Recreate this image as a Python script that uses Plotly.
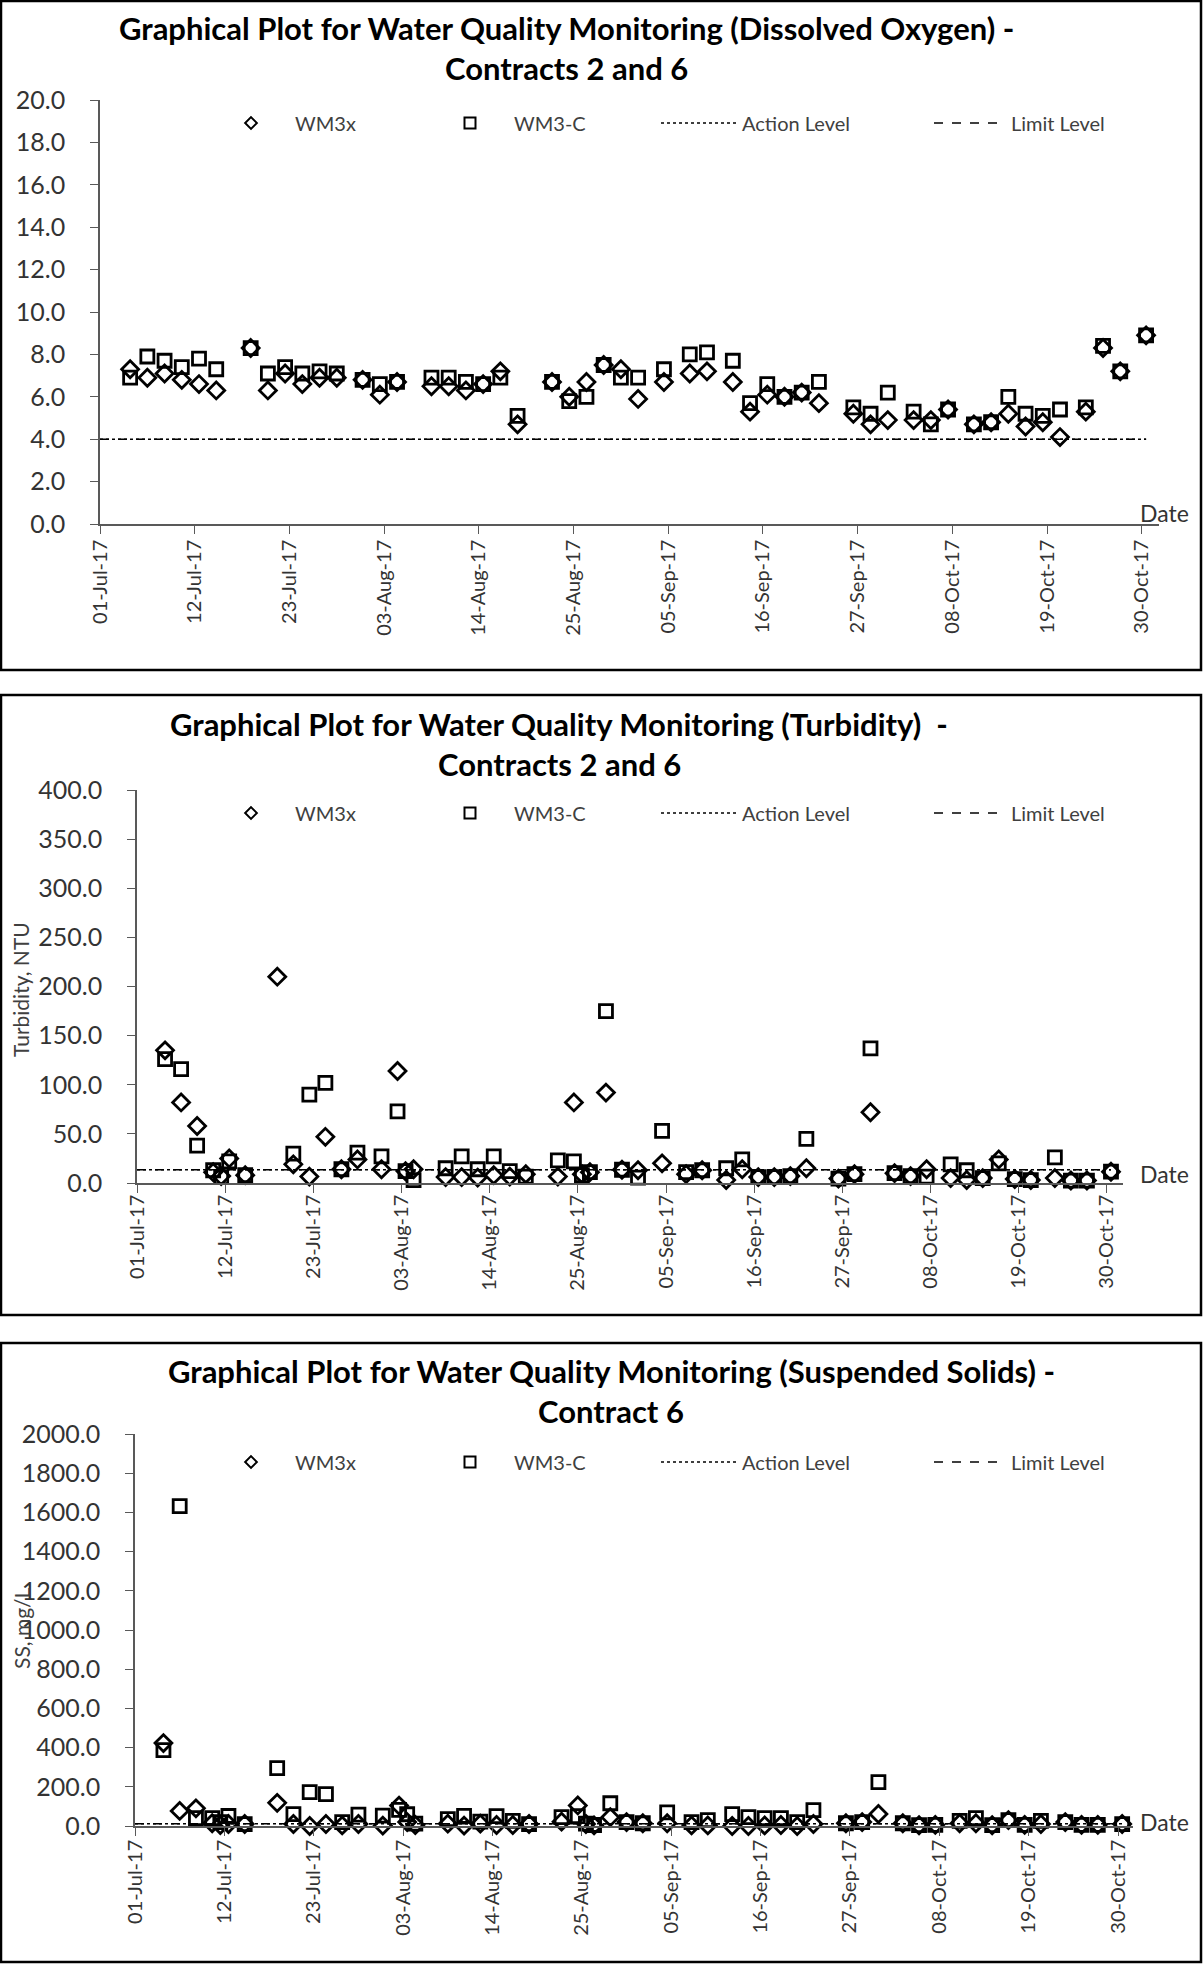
import plotly.graph_objects as go
import pandas as pd

W, H = 1203, 1964

# ---------------- data ----------------
tick_dates = ["2017-07-01", "2017-07-12", "2017-07-23", "2017-08-03", "2017-08-14", "2017-08-25",
              "2017-09-05", "2017-09-16", "2017-09-27", "2017-10-08", "2017-10-19", "2017-10-30"]

level_dates = ["2017-07-01 00:00", "2017-10-30 12:00"]

do_dates = ["2017-07-04", "2017-07-06", "2017-07-08", "2017-07-10", "2017-07-12", "2017-07-14",
            "2017-07-18", "2017-07-20", "2017-07-22", "2017-07-24", "2017-07-26", "2017-07-28",
            "2017-07-31", "2017-08-02", "2017-08-04",
            "2017-08-08", "2017-08-10", "2017-08-12", "2017-08-14", "2017-08-16", "2017-08-18",
            "2017-08-22", "2017-08-24", "2017-08-26", "2017-08-28", "2017-08-30", "2017-09-01",
            "2017-09-04", "2017-09-07", "2017-09-09", "2017-09-12", "2017-09-14", "2017-09-16",
            "2017-09-18", "2017-09-20", "2017-09-22",
            "2017-09-26", "2017-09-28", "2017-09-30", "2017-10-03", "2017-10-05", "2017-10-07",
            "2017-10-10", "2017-10-12", "2017-10-14", "2017-10-16", "2017-10-18", "2017-10-20",
            "2017-10-23", "2017-10-25", "2017-10-27", "2017-10-30"]
do_wm3x = [7.3, 6.9, 7.1, 6.8, 6.6, 6.3,
           8.3, 6.3, 7.1, 6.6, 6.9, 6.9,
           6.8, 6.1, 6.7,
           6.5, 6.5, 6.3, 6.6, 7.2, 4.7,
           6.7, 6.0, 6.7, 7.5, 7.3, 5.9,
           6.7, 7.1, 7.2, 6.7, 5.3, 6.1, 6.0, 6.2, 5.7,
           5.2, 4.7, 4.9, 4.9, 4.9, 5.4,
           4.7, 4.8, 5.2, 4.6, 4.8, 4.1,
           5.3, 8.3, 7.2, 8.9]
do_wm3c = [6.9, 7.9, 7.7, 7.4, 7.8, 7.3,
           8.3, 7.1, 7.4, 7.1, 7.2, 7.1,
           6.8, 6.6, 6.7,
           6.9, 6.9, 6.7, 6.6, 6.9, 5.1,
           6.7, 5.8, 6.0, 7.5, 6.9, 6.9,
           7.3, 8.0, 8.1, 7.7, 5.7, 6.6, 6.0, 6.2, 6.7,
           5.5, 5.2, 6.2, 5.3, 4.7, 5.4,
           4.7, 4.8, 6.0, 5.2, 5.1, 5.4,
           5.5, 8.4, 7.2, 8.9]
do_action = [4.0, 4.0]
do_limit = [4.0, 4.0]

wq_dates = ["2017-07-04", "2017-07-06", "2017-07-08", "2017-07-10", "2017-07-11", "2017-07-12", "2017-07-14",
            "2017-07-18", "2017-07-20", "2017-07-22", "2017-07-24", "2017-07-26", "2017-07-28",
            "2017-07-31", "2017-08-02", "2017-08-03", "2017-08-04",
            "2017-08-08", "2017-08-10", "2017-08-12", "2017-08-14", "2017-08-16", "2017-08-18",
            "2017-08-22", "2017-08-24", "2017-08-25", "2017-08-26", "2017-08-28", "2017-08-30", "2017-09-01",
            "2017-09-04", "2017-09-07", "2017-09-09", "2017-09-12", "2017-09-14", "2017-09-16",
            "2017-09-18", "2017-09-20", "2017-09-22",
            "2017-09-26", "2017-09-28", "2017-09-30", "2017-10-03", "2017-10-05", "2017-10-07",
            "2017-10-10", "2017-10-12", "2017-10-14", "2017-10-16", "2017-10-18", "2017-10-20",
            "2017-10-23", "2017-10-25", "2017-10-27", "2017-10-30"]
tur_wm3x = [135, 82, 58, 11, 7, 25, 8,
            210, 19, 6.5, 47, 14, 24,
            14, 114, 12, 14,
            6, 6, 5.5, 8, 6.5, 9,
            6.5, 82, 9, 11, 92, 13.5, 13,
            20, 9, 13, 3, 14, 6,
            6, 7, 15,
            4.5, 9, 72, 10, 7, 14,
            5, 3, 5, 24, 4, 3,
            5, 2.5, 2.5, 11.5]
tur_wm3c = [126, 116, 38, 13, 6, 22, 8,
            None, 30, 90, 102, 14, 31,
            27, 73, 12, 3,
            15, 27, 14, 27, 12, 6.5,
            23, 22, 8, 11, 175, 13.5, 5.5,
            53, 11, 13, 15, 24, 6,
            6, 7, 45,
            4.5, 9, 137, 10, 7, 6.5,
            19, 13, 5, 20, 4, 3,
            26, 2.5, 2.5, 11.5]
tur_action = [13.4, 13.4]
tur_limit = [13.4, 13.4]

ss_wm3x = [423, 77, 90, 14, 5, 10, 10,
           118, 10, 0, 10, 3, 10,
           2, 104, 20, 5,
           12, 2, 12, 5, 5, 10,
           22, 105, 10, 3, 45, 20, 14,
           14, 3, 3, 0, 0, 3,
           5, 0, 10,
           14, 20, 61, 14, 4, 6,
           14, 14, 4, 30, 6, 10,
           20, 6, 6, 10]
ss_wm3c = [387, 1632, 40, 40, 20, 51, 10,
           295, 61, 173, 163, 20, 58,
           53, 82, 60, 12,
           35, 52, 22, 50, 26, 10,
           45, 50, 12, 5, 116, 20, 14,
           70, 20, 30, 61, 45, 40,
           40, 20, 81,
           14, 20, 224, 14, 4, 6,
           26, 40, 4, 30, 6, 26,
           20, 6, 6, 10]
ss_action = [12, 12]
ss_limit = [12, 12]

# ---------------- helpers ----------------
FONT = "Lato"
TXT = "#333333"
LEG = "#404040"
AX = "#595959"


def px(x):
    return x / W


def py(y):
    return 1 - y / H


def slot(dates):
    # Excel date axis draws each day's point in the middle of its day slot
    return pd.to_datetime(pd.Series(dates)) + pd.Timedelta(hours=12)


fig = go.Figure()

panels = [
    dict(dates=do_dates, a=do_wm3x, b=do_wm3c, act=do_action, lim=do_limit,
         yrange=[0, 20], dtick=2, xdom=[100, 1159], ydom=[100, 524], xend="2017-11-01",
         title1="Graphical Plot for Water Quality Monitoring (Dissolved Oxygen) -",
         title2="Contracts 2 and 6", tx=566, ty1=28, ty2=68, leg_y=123, date_y=513,
         ytitle=None, xstand=-2),
    dict(dates=wq_dates, a=tur_wm3x, b=tur_wm3c, act=tur_action, lim=tur_limit,
         yrange=[0, 400], dtick=50, xdom=[137, 1123], ydom=[790, 1183], xend="2017-11-01",
         title1="Graphical Plot for Water Quality Monitoring (Turbidity)  -",
         title2="Contracts 2 and 6", tx=559, ty1=724, ty2=764, leg_y=813, date_y=1174,
         ytitle=("Turbidity, NTU", 21, 990), xstand=-6),
    dict(dates=wq_dates, a=ss_wm3x, b=ss_wm3c, act=ss_action, lim=ss_limit,
         yrange=[0, 2000], dtick=200, xdom=[135, 1133], ydom=[1434, 1826], xend="2017-10-31 20:00",
         title1="Graphical Plot for Water Quality Monitoring (Suspended Solids) -",
         title2="Contract 6", tx=611, ty1=1371, ty2=1411, leg_y=1462, date_y=1822,
         ytitle=("SS, mg/L", 21, 1628), xstand=-4),
]

boxes = [(1, 1, 1201, 670), (1, 695, 1201, 1315), (1, 1343, 1201, 1962)]

annotations = []
shapes = []
layout_extra = {}

for i, p in enumerate(panels):
    n = i + 1
    xa = "x" if n == 1 else f"x{n}"
    ya = "y" if n == 1 else f"y{n}"
    lg = [f"legend{4 * i + k}" if (4 * i + k) > 1 else "legend" for k in (1, 2, 3, 4)]

    # data traces
    fig.add_trace(go.Scatter(
        x=slot(p["dates"]), y=p["a"], mode="markers", name="WM3x", showlegend=False,
        marker=dict(symbol="diamond-open", size=13, color="black", line=dict(width=2.8, color="black")),
        xaxis=xa, yaxis=ya, cliponaxis=False))
    fig.add_trace(go.Scatter(
        x=slot(p["dates"]), y=p["b"], mode="markers", name="WM3-C", showlegend=False,
        marker=dict(symbol="square-open", size=13, color="black", line=dict(width=2.8, color="black")),
        xaxis=xa, yaxis=ya, cliponaxis=False))
    # legend keys (smaller symbols, as in the original legend)
    fig.add_trace(go.Scatter(
        x=[None], y=[None], mode="markers", name="WM3x",
        marker=dict(symbol="diamond-open", size=9, color="black", line=dict(width=2, color="black")),
        xaxis=xa, yaxis=ya, legend=lg[0]))
    fig.add_trace(go.Scatter(
        x=[None], y=[None], mode="markers", name="WM3-C",
        marker=dict(symbol="square-open", size=11, color="black", line=dict(width=2, color="black")),
        xaxis=xa, yaxis=ya, legend=lg[1]))
    fig.add_trace(go.Scatter(
        x=pd.to_datetime(pd.Series(level_dates)), y=p["act"], mode="lines", name="Action Level",
        line=dict(color="black", width=1.5, dash="dot"), xaxis=xa, yaxis=ya, legend=lg[2]))
    fig.add_trace(go.Scatter(
        x=pd.to_datetime(pd.Series(level_dates)), y=p["lim"], mode="lines", name="Limit Level",
        line=dict(color="black", width=1.5, dash="dash"), xaxis=xa, yaxis=ya, legend=lg[3]))

    # axes
    xkey = "xaxis" if n == 1 else f"xaxis{n}"
    ykey = "yaxis" if n == 1 else f"yaxis{n}"
    layout_extra[xkey] = dict(
        type="date", domain=[px(p["xdom"][0]), px(p["xdom"][1])], anchor=ya, automargin=False,
        range=["2017-07-01", p["xend"]], tickvals=tick_dates, tickformat="%d-%b-%y",
        tickangle=-90, ticks="outside", ticklen=8, tickwidth=1.2, tickcolor=AX,
        showline=True, linecolor=AX, linewidth=1.5, showgrid=False, zeroline=False,
        tickfont=dict(family=FONT, size=20, color=TXT), ticklabelstandoff=p["xstand"])
    layout_extra[ykey] = dict(
        domain=[py(p["ydom"][1]), py(p["ydom"][0])], anchor=xa, automargin=False,
        range=p["yrange"], dtick=p["dtick"], tickformat=".1f",
        ticks="outside", ticklen=8, tickwidth=1.2, tickcolor=AX,
        showline=True, linecolor=AX, linewidth=1.5, showgrid=False, zeroline=False,
        tickfont=dict(family=FONT, size=25, color=TXT), ticklabelstandoff=20)

    # legends (one per item so that spacing matches the original)
    leg_specs = [(207, 78), (426, 78), (656, 76), (929, 72)]
    for k, (x0, iw) in enumerate(leg_specs):
        layout_extra[lg[k]] = dict(
            x=px(x0), y=py(p["leg_y"]), xanchor="left", yanchor="middle",
            orientation="h", itemwidth=iw, bgcolor="rgba(0,0,0,0)", borderwidth=0,
            font=dict(family=FONT, size=20, color=LEG), itemclick=False, itemdoubleclick=False)

    # titles
    for txt, yy in ((p["title1"], p["ty1"]), (p["title2"], p["ty2"])):
        annotations.append(dict(text=f"<b>{txt}</b>", x=px(p["tx"]), y=py(yy), xref="paper", yref="paper",
                                xanchor="center", yanchor="middle", showarrow=False,
                                font=dict(family=FONT, size=31, color="black")))
    # Date label
    annotations.append(dict(text="Date", x=px(1138), y=py(p["date_y"]), xref="paper", yref="paper",
                            xanchor="left", yanchor="middle", showarrow=False,
                            font=dict(family=FONT, size=23, color=TXT)))
    if p["ytitle"]:
        t, xx, yy = p["ytitle"]
        annotations.append(dict(text=t, x=px(xx), y=py(yy), xref="paper", yref="paper",
                                xanchor="center", yanchor="middle", showarrow=False, textangle=-90,
                                font=dict(family=FONT, size=21, color=LEG)))

for (x0, y0, x1, y1) in boxes:
    shapes.append(dict(type="rect", xref="paper", yref="paper", x0=px(x0), x1=px(x1),
                       y0=py(y1), y1=py(y0), line=dict(color="black", width=2.5)))

fig.update_layout(
    width=W, height=H, margin=dict(l=0, r=0, t=0, b=0, autoexpand=False),
    paper_bgcolor="white", plot_bgcolor="white",
    annotations=annotations, shapes=shapes, showlegend=True,
    font=dict(family=FONT),
    **layout_extra)

fig.write_html(
    "out.html",
    config={"displayModeBar": False, "responsive": False},
    post_script=("document.documentElement.style.margin='0px';"
                 "document.documentElement.style.overflow='hidden';"
                 "document.body.style.margin='0px';"
                 "document.body.style.overflow='hidden';"))
